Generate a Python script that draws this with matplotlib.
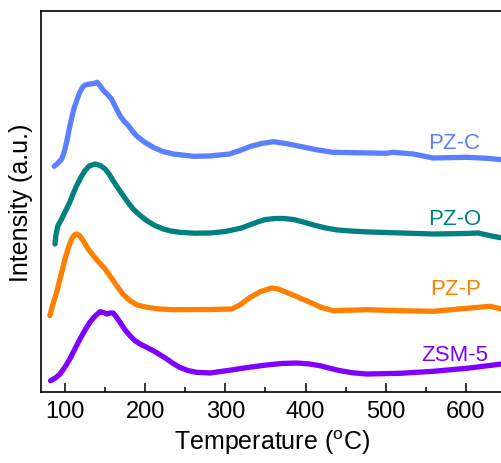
import matplotlib
matplotlib.use("Agg")
import matplotlib.pyplot as plt
from matplotlib.ticker import MultipleLocator

plt.rcParams['font.family'] = ['Liberation Sans', 'DejaVu Sans']
plt.rcParams['mathtext.fontset'] = 'custom'
plt.rcParams['mathtext.rm'] = 'Liberation Sans'

# ---- data (temperature in °C, intensity in arbitrary units, already offset) ----
pzc_T = [86.6, 90, 95.9, 99, 102, 105, 108, 111, 114.5, 118, 122, 125, 131, 136, 140, 144, 148,
         153, 158, 163, 168.6, 174, 179, 184, 189, 199, 210, 222, 235, 260, 280, 305, 318, 331,
         345, 360, 375, 393, 412, 434, 501, 509, 534, 559, 601, 626, 645]
pzc_I = [225.7, 228, 233, 240, 249.7, 262, 273, 283, 291.3, 299, 305, 307, 308, 308.5, 309.7, 306,
         301.3, 297.5, 293, 285, 276.3, 270.5, 266.3, 261, 256.3, 250, 244.7, 240.5, 238, 235.7,
         236, 238, 241.5, 245.5, 248.5, 250.3, 248.5, 245.7, 242.5, 239.7, 238.7, 239.7, 238,
         234, 234.7, 233.7, 232.3]

pzo_T = [87.5, 88.7, 91, 95.8, 100, 106, 110, 114.5, 120, 125, 130, 137.4, 144, 150, 155, 160,
         166, 172.7, 179, 185, 193, 202, 212, 222.6, 232, 243, 262, 281, 300, 320, 340, 350, 362,
         373, 385, 397, 410, 425, 440, 460, 480, 520, 560, 600, 615, 632, 645]
pzo_I = [148, 157, 166, 173, 180, 189.7, 198, 206.3, 215, 221.3, 226, 228, 226.5, 223, 218,
         211.3, 204, 196.3, 189, 183, 177, 171.3, 166.5, 163, 161, 159.7, 158.8, 159, 160.5,
         164, 170, 172.5, 173.5, 173.5, 172.5, 170, 167, 164, 162, 160.8, 160, 159, 158, 158.5,
         159, 156, 154]

pzp_T = [81, 85, 89.6, 95, 100, 104, 108.3, 111.5, 114.6, 118, 122.8, 128, 135.3, 142, 150, 157,
         164.5, 172, 181, 190, 202, 218, 235, 281, 308, 318, 331, 344, 357.7, 366, 376, 390,
         405.5, 420, 434.5, 476, 518, 559, 601, 630, 644.5]
pzp_I = [76.3, 88, 99.7, 117, 133, 144, 153, 157, 158, 156.5, 151.3, 144, 136.3, 130, 123, 115,
         106.3, 98, 91.3, 87, 84.7, 83, 82.3, 82.5, 83, 87, 94.7, 100.5, 104, 103, 99.7, 95,
         89.7, 84.5, 81.3, 82.3, 81.3, 80.7, 83.7, 85.7, 83]

zsm_T = [82, 88, 93.8, 100, 106, 112, 118.7, 125, 131, 137, 143.6, 148, 152, 156, 160, 164,
         168.6, 175, 181, 187, 193.5, 201, 210, 218, 226.8, 235, 243, 253, 264, 281, 310, 330,
         351.5, 370, 389, 405, 418, 430, 443, 458, 476, 518, 559, 601, 644.5]
zsm_I = [11.3, 14, 18, 25, 33, 42.5, 53, 62, 69.7, 75.5, 80.3, 79.5, 78, 79, 79, 75, 69.7, 62,
         56.3, 51.5, 48, 45, 41.3, 37.5, 33, 28.5, 24.7, 21.5, 19.7, 19, 22.3, 24.8, 27, 28.5,
         29, 28, 26.3, 23.8, 21.3, 19.3, 18, 18.7, 20.7, 23.7, 28]

names = ['PZ-C', 'PZ-O', 'PZ-P', 'ZSM-5']
colors = ['#5B80FF', '#008080', '#FF8000', '#8000FF']
xticks = [100, 200, 300, 400, 500, 600]

fig = plt.figure(figsize=(5.02, 4.64), dpi=100)
ax = fig.add_axes([41 / 502, 1 - 393 / 464, 1 - 41 / 502, (393 - 12) / 464])

series = [(pzc_T, pzc_I), (pzo_T, pzo_I), (pzp_T, pzp_I), (zsm_T, zsm_I)]
for (T, I), c in zip(series, colors):
    ax.plot(T, I, color=c, lw=3.8, solid_capstyle='round', solid_joinstyle='round')

label_pos = [(552.6, 243.7), (552.6, 167.5), (555, 98), (544.8, 32.3)]
for name, c, (x, y) in zip(names, colors, label_pos):
    ax.text(x, y, name, color=c, fontsize=16, ha='left', va='baseline')

ax.set_xlim(70.07, 644.9)
ax.set_ylim(0, 381)
ax.set_xticks(xticks)
ax.xaxis.set_minor_locator(MultipleLocator(50))
ax.set_yticks([])
ax.tick_params(axis='x', which='major', direction='in', length=6.5, width=1.1, labelsize=17, pad=6)
ax.tick_params(axis='x', which='minor', direction='in', length=3.4, width=1.1)
for s in ['left', 'bottom', 'top']:
    ax.spines[s].set_linewidth(1.2)
ax.spines['right'].set_visible(False)

ax.set_xlabel('Temperature ($^{\\mathrm{o}}$C)', fontsize=18, labelpad=4)
ax.set_ylabel('Intensity (a.u.)', fontsize=18, labelpad=6)

fig.savefig('out.png', dpi=100)
